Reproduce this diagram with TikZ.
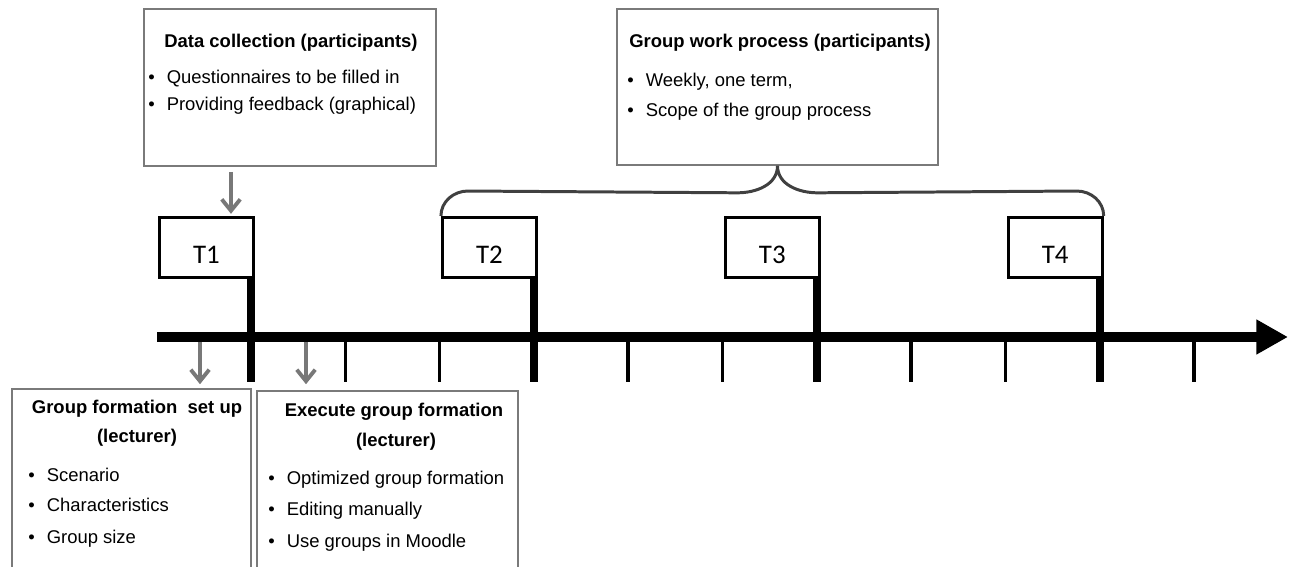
\documentclass[tikz,border=0pt]{standalone}
\usepackage{fontspec}
\setmainfont{Liberation Sans}
\newfontfamily\tfont{Carlito}
\usetikzlibrary{arrows.meta,calc}

\begin{document}
\begin{tikzpicture}[x=0.02cm,y=0.02cm]
    \tikzstyle{gbox}=[draw=black!52,line width=0.95pt,inner sep=0pt]
    \tikzstyle{tbox}=[draw=black,line width=1.7pt,fill=white,minimum width=1.88cm,minimum height=1.2cm,inner sep=0pt,text height=20pt,text depth=2pt,font=\tfont\fontsize{15.3}{18}\selectfont]
    \tikzstyle{head}=[inner sep=0pt,anchor=base,font=\bfseries\fontsize{10.5}{12}\selectfont]
    \tikzstyle{item}=[inner sep=0pt,anchor=base west,font=\fontsize{10.5}{12}\selectfont]
    \tikzstyle{garrow}=[draw=black!53,line width=2.2pt,-{Straight Barb[length=6.5pt,width=10.5pt]}]
    \useasboundingbox (0,0) rectangle (1292,-567);
    \clip (0,0) rectangle (1292,-567);
    % boxes
    \node[gbox,minimum width=5.84cm,minimum height=3.14cm] (dc) at (290,-87.5) {};
    \node[gbox,minimum width=6.42cm,minimum height=3.12cm] (gw) at (777.5,-87) {};
    \node[gbox,minimum width=4.78cm,minimum height=4.22cm] (gs) at (131.5,-494.5) {};
    \node[gbox,minimum width=5.22cm,minimum height=4.18cm] (ex) at (387.5,-495.5) {};
    % texts
    \node[head] (dchead) at (291,-48) {Data collection (participants)};
    \foreach \t [count=\i] in {Questionnaires to be filled in, Providing feedback (graphical)}
        \node[item] (dc-\i) at (148,-84-27*\i+27) {\makebox[1em][l]{\textbullet}\t};
    \node[head] (gwhead) at (780,-48) {Group work process (participants)};
    \foreach \t [count=\i] in {{Weekly, one term,}, Scope of the group process}
        \node[item] (gw-\i) at (627,-87-30*\i+30) {\makebox[1em][l]{\textbullet}\t};
    \node[head] (gshead) at (137,-414) {Group formation\ \ set up};
    \node[head] (gshead2) at (137,-443) {(lecturer)};
    \foreach \t [count=\i] in {Scenario, Characteristics, Group size}
        \node[item] (gs-\i) at (28,-481-31*\i+31) {\makebox[1em][l]{\textbullet}\t};
    \node[head] (exhead) at (394,-417) {Execute group formation};
    \node[head] (exhead2) at (396,-447) {(lecturer)};
    \foreach \t [count=\i] in {Optimized group formation, Editing manually, Use groups in Moodle}
        \node[item] (ex-\i) at (268,-484-31.5*\i+31.5) {\makebox[1em][l]{\textbullet}\t};
    % time line
    \coordinate (tstart) at (157,-337);
    \coordinate (tend) at (1288,-337);
    \draw[line width=5.7pt,-{Triangle[length=18pt,width=18.7pt]}] (tstart) -- (tend);
    \foreach \i in {1,2,4,5,7,8,10}
        \draw[line width=2pt] (251+94.3*\i,-337) -- ++(0,-45);
    \foreach \i/\t in {0/T1,3/T2,6/T3,9/T4} {
        \node[tbox,anchor=south east] (\t) at (255+94.3*\i,-279) {\t};
        \draw[line width=4.5pt] ($(\t.south east)+(-4,0)$) -- ++(0,-103);
    }
    % brace
    \draw[draw=black!75,line width=1.7pt] (T2.north west) to[out=90,in=180] ++(27,25)
        -- ($(gw.south)+(-40,-27)$) to[out=0,in=-90] (gw.south)
        to[out=-90,in=180] ++(40,-27) -- ($(T4.north east)+(-27,25)$) to[out=0,in=90] (T4.north east);
    % arrows
    \draw[garrow] (dc.south) ++(-59,-5) -- ++(0,-42);
    \draw[garrow] (gs.north) ++(68.5,46) -- ++(0,-42);
    \draw[garrow] (ex.north) ++(-81.5,48) -- ++(0,-42);
\end{tikzpicture}
\end{document}
